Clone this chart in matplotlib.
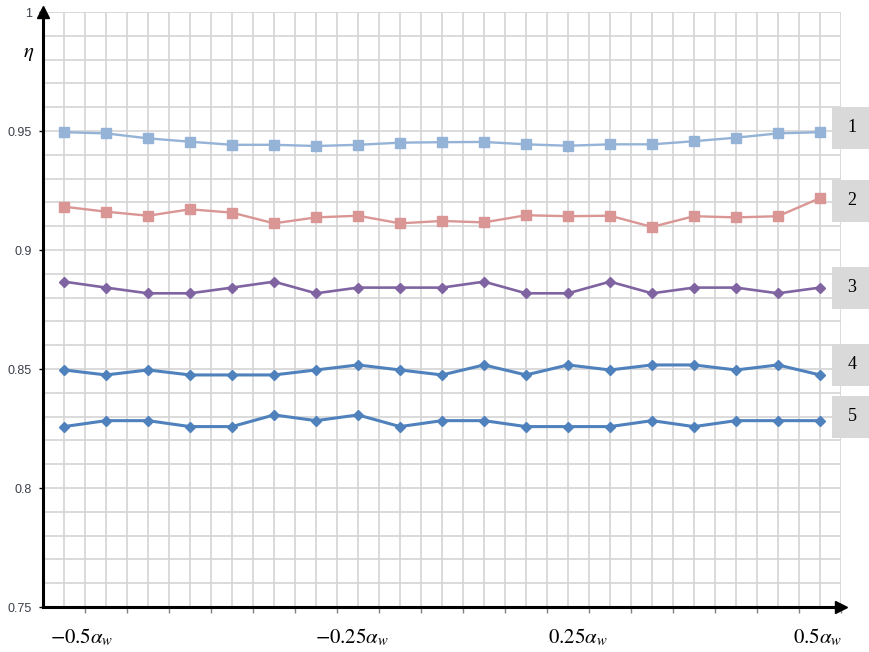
import numpy as np
import matplotlib
matplotlib.use("Agg")
import matplotlib.pyplot as plt
from matplotlib.patches import Rectangle

# efficiency values for the 19 positions across the width
idx = np.arange(19)
eta1 = [0.9495, 0.9490, 0.9469, 0.9455, 0.9442, 0.9442, 0.9437, 0.9442, 0.9451, 0.9453,
        0.9454, 0.9444, 0.9438, 0.9444, 0.9444, 0.9457, 0.9472, 0.9490, 0.9495]
eta2 = [0.9182, 0.9161, 0.9144, 0.9171, 0.9157, 0.9112, 0.9137, 0.9144, 0.9112, 0.9122,
        0.9116, 0.9146, 0.9142, 0.9144, 0.9097, 0.9142, 0.9137, 0.9142, 0.9218]
eta3 = [0.8867, 0.8842, 0.8818, 0.8818, 0.8842, 0.8867, 0.8818, 0.8842, 0.8842, 0.8842,
        0.8867, 0.8818, 0.8818, 0.8867, 0.8818, 0.8842, 0.8842, 0.8818, 0.8842]
eta4 = [0.8496, 0.8475, 0.8496, 0.8475, 0.8475, 0.8475, 0.8496, 0.8517, 0.8496, 0.8475,
        0.8517, 0.8475, 0.8517, 0.8496, 0.8517, 0.8517, 0.8496, 0.8517, 0.8475]
eta5 = [0.8258, 0.8283, 0.8283, 0.8258, 0.8258, 0.8307, 0.8283, 0.8307, 0.8258, 0.8283,
        0.8283, 0.8258, 0.8258, 0.8258, 0.8283, 0.8258, 0.8283, 0.8283, 0.8283]
curve_names = ["1", "2", "3", "4", "5"]

xlabels = [r"$-0.5\alpha_w$", r"$-0.25\alpha_w$", r"$0.25\alpha_w$", r"$0.5\alpha_w$"]
xlabel_pos = [0.43, 6.86, 12.24, 17.95]
yticks = [0.75, 0.8, 0.85, 0.9, 0.95, 1.0]
ylabels = ["0.75", "0.8", "0.85", "0.9", "0.95", "1"]

plt.rcParams['font.family'] = ['Liberation Sans', 'DejaVu Sans']
plt.rcParams['mathtext.fontset'] = 'stix'

fig = plt.figure(figsize=(8.69, 6.52), dpi=100)
ax = fig.add_axes([43 / 869, 45 / 652, 798 / 869, 595 / 652])

# series
ax.plot(idx, eta1, color='#95B3D7', lw=1.7, marker='s', ms=6.8, zorder=3)
ax.plot(idx, eta2, color='#D99694', lw=1.7, marker='s', ms=6.8, zorder=3)
ax.plot(idx, eta3, color='#8064A2', lw=1.9, marker='D', ms=5, zorder=3)
ax.plot(idx, eta4, color='#4F81BD', lw=2.2, marker='D', ms=5.5, zorder=3)
ax.plot(idx, eta5, color='#4F81BD', lw=2.2, marker='D', ms=5.5, zorder=3)

ax.set_xlim(-0.5, 18.5)
ax.set_ylim(0.75, 1.0)

# grid every half category and every 0.01
ax.set_xticks(np.arange(0.5, 18.6, 1))
ax.set_xticks(np.arange(0, 19, 1), minor=True)
ax.set_xticklabels([])
ax.set_yticks(yticks)
ax.set_yticklabels(ylabels, fontsize=9, color='#3b3f48')
ax.set_yticks(np.arange(0.75, 1.001, 0.01), minor=True)
ax.grid(True, which='both', color='#d4d4d4', lw=1.2, zorder=0)
ax.tick_params(axis='x', which='major', length=4, width=1, color='#808080')
ax.tick_params(axis='y', which='major', length=3, width=1, pad=5)
ax.tick_params(which='minor', length=0)
ax.set_axisbelow(True)

for s in ['top', 'right']:
    ax.spines[s].set_visible(False)
for s in ['left', 'bottom']:
    ax.spines[s].set_linewidth(2.2)
    ax.spines[s].set_zorder(4)

# axis arrows
ax.plot(0, 1, marker='^', color='k', ms=8, transform=ax.transAxes, clip_on=False, zorder=5)
ax.plot(1, 0, marker='>', color='k', ms=8, transform=ax.transAxes, clip_on=False, zorder=5)

# x labels placed below axis
for p, t in zip(xlabel_pos, xlabels):
    ax.text(p, -0.05, t, fontsize=15, ha='center', va='center',
            transform=ax.get_xaxis_transform())

ax.text(-0.0175, 0.93, r"$\eta$", fontsize=15, ha='center', va='center',
        transform=ax.transAxes)

# numbered boxes at the right
box_y = [127.5, 200.5, 288, 364.5, 416.5]
for name, yc in zip(curve_names, box_y):
    fig.add_artist(Rectangle((832 / 869, 1 - (yc + 21) / 652), 40 / 869, 42 / 652,
                             transform=fig.transFigure, color='#d9d9d9', lw=0))
    fig.text(852 / 869, 1 - yc / 652, name, fontsize=13, ha='center', va='center',
             family='Liberation Serif')

plt.savefig("out.png", dpi=100)
